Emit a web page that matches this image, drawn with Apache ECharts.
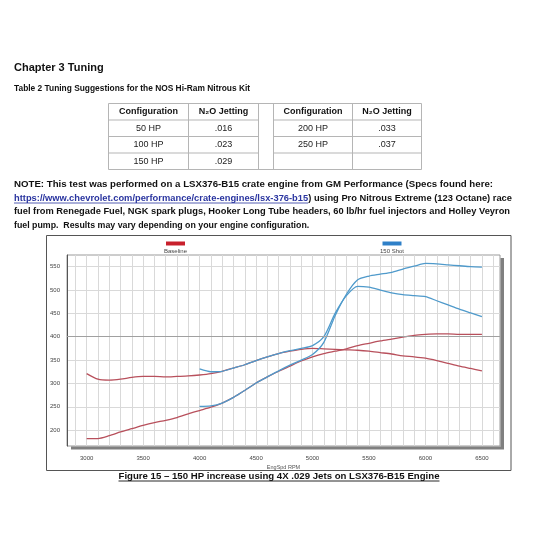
<!DOCTYPE html>
<html><head><meta charset="utf-8">
<script src="https://cdn.jsdelivr.net/npm/echarts@6/dist/echarts.min.js"></script>
<style>html,body{margin:0;padding:0;background:#fff}#c{width:550px;height:550px}</style>
</head><body><div id="c"></div>
<script>
// ---- data ----
const rpm = [3000,3100,3200,3300,3400,3500,3600,3700,3800,3900,4000,4100,4200,4300,4400,4500,4600,4700,4800,4900,5000,5100,5200,5300,5400,5500,5600,5700,5800,5900,6000,6100,6200,6300,6400,6500];
const baselineHP = [182,182,188,196,203,210,216,221,227,235,242,249,258,270,285,301,314,326,337,348,357,364,369,374,381,386,391,395,399,403,405,406,406,405,405,405];
const baselineTQ = [321,309,307,309,313,315,315,314,315,316,318,321,326,333,340,349,357,364,369,373,375,374,373,372,371,369,366,363,359,357,354,349,343,337,332,327];
const shotHP = [null,null,null,null,null,null,null,null,null,null,251,252,258,270,285,301,314,327,339,350,362,388,445,491,522,530,534,538,545,551,557,556,554,552,550,549];
const shotTQ = [null,null,null,null,null,null,null,null,null,null,331,325,326,333,340,349,357,364,370,375,381,400,450,488,508,506,500,494,490,488,486,477,468,459,451,443];
const xTickLabels = [3000,3500,4000,4500,5000,5500,6000,6500];
const yTickLabels = [200,250,300,350,400,450,500,550];
const legendNames = ['Baseline','150 Shot'];
const tableHeaders = ['Configuration','N\u2082O Jetting'];
const configs = ['50 HP','100 HP','150 HP','200 HP','250 HP'];
const jettings = ['.016','.023','.029','.033','.037'];
const noteLines = [
  'NOTE: This test was performed on a LSX376-B15 crate engine from GM Performance (Specs found here:',
  'https://www.chevrolet.com/performance/crate-engines/lsx-376-b15',
  ') using Pro Nitrous Extreme (123 Octane) race',
  'fuel from Renegade Fuel, NGK spark plugs, Hooker Long Tube headers, 60 lb/hr fuel injectors and Holley Veyron',
  'fuel pump.  Results may vary depending on your engine configuration.'
];
const caption = 'Figure 15 \u2013 150 HP increase using 4X .029 Jets on LSX376-B15 Engine';

// ---- helpers ----
const FONT = '"Liberation Sans", Arial, sans-serif';
const mctx = document.createElement('canvas').getContext('2d');
function tw(t, f){ mctx.font = f; return mctx.measureText(t).width; }
function pair(vals){ return rpm.map((r,i)=>[r, vals[i]]); }
const gridTicks = [];
for (let v = 2900; v <= 6600; v += 100) gridTicks.push(v);

const g = [];
function txt(x,y,t,size,opt){
  opt = opt || {};
  const el = {type:'text', z:10, x:x, y:y, scaleX: opt.sx || 1, style:{x:0, y:0, text:t,
    font:(opt.bold?'bold ':'') + size + 'px ' + FONT,
    fill: opt.fill || '#111', textAlign: opt.align || 'left', textVerticalAlign:'middle'}};
  g.push(el);
}
function ln(x1,y1,x2,y2,c,w){
  g.push({type:'line', z:10, shape:{x1:x1,y1:y1,x2:x2,y2:y2}, style:{stroke:c||'#aaa', lineWidth:w||1}});
}

// headings
txt(14, 68, 'Chapter 3 Tuning', 11, {bold:true});
txt(14, 89, 'Table 2 Tuning Suggestions for the NOS Hi-Ram Nitrous Kit', 8.4, {bold:true});

// table
const cx = [108.5,188.5,258.5,273.5,352.5,421.5];
const ry = [103.5,120,136.5,153,169.5];
const tc = '#b5b5b5';
ln(cx[0],ry[0],cx[5],ry[0],tc); ln(cx[0],ry[4],cx[5],ry[4],tc);
cx.forEach(x=>ln(x,ry[0],x,ry[4],tc));
for (let i=1;i<4;i++){ ln(cx[0],ry[i],cx[2],ry[i],tc); ln(cx[3],ry[i],cx[5],ry[i],tc); }
const colC = [(cx[0]+cx[1])/2,(cx[1]+cx[2])/2,(cx[3]+cx[4])/2,(cx[4]+cx[5])/2];
const rowC = [(ry[0]+ry[1])/2,(ry[1]+ry[2])/2,(ry[2]+ry[3])/2,(ry[3]+ry[4])/2];
txt(colC[0],rowC[0],tableHeaders[0],9,{bold:true,align:'center'});
txt(colC[1],rowC[0],tableHeaders[1],9,{bold:true,align:'center'});
txt(colC[2],rowC[0],tableHeaders[0],9,{bold:true,align:'center'});
txt(colC[3],rowC[0],tableHeaders[1],9,{bold:true,align:'center'});
for (let i=0;i<3;i++){ txt(colC[0],rowC[i+1],configs[i],9,{align:'center',fill:'#222'}); txt(colC[1],rowC[i+1],jettings[i],9,{align:'center',fill:'#222'}); }
for (let i=3;i<5;i++){ txt(colC[2],rowC[i-2],configs[i],9,{align:'center',fill:'#222'}); txt(colC[3],rowC[i-2],jettings[i],9,{align:'center',fill:'#222'}); }

// note (lines 1-3 justified to the right margin)
const nf = 8.8, nfont = 'bold ' + nf + 'px ' + FONT;
const ly = [185, 198.5, 212, 225.5];
const L = 14;
const w0 = tw(noteLines[0], nfont);
txt(L, ly[0], noteLines[0], nf, {bold:true, sx:(493-L)/w0});
const wl = tw(noteLines[1], nfont), wr = tw(noteLines[2], nfont);
const s1 = (512-L)/(wl+wr);
txt(L, ly[1], noteLines[1], nf, {bold:true, fill:'#2a35a0', sx:s1});
ln(L, ly[1]+4.5, L+wl*s1, ly[1]+4.5, '#2a35a0', 0.8);
txt(L+wl*s1, ly[1], noteLines[2], nf, {bold:true, sx:s1});
const w3 = tw(noteLines[3], nfont);
txt(L, ly[2], noteLines[3], nf, {bold:true, sx:(510-L)/w3});
txt(L, ly[3], noteLines[4], nf, {bold:true});

// chart frame
g.push({type:'rect', z:1, shape:{x:46.5,y:235.5,width:464.5,height:235}, style:{fill:'none', stroke:'#555', lineWidth:1}});
// plot drop shadow (right and bottom strips)
g.push({type:'rect', z:1, shape:{x:500.5,y:258,width:3.5,height:191}, style:{fill:'#808080'}});
g.push({type:'rect', z:1, shape:{x:71,y:446.5,width:433,height:3}, style:{fill:'#808080'}});
// legend
g.push({type:'rect', z:10, shape:{x:166,y:241.5,width:19,height:4}, style:{fill:'#c8202c'}});
g.push({type:'rect', z:10, shape:{x:382.5,y:241.5,width:19,height:4}, style:{fill:'#2f80c8'}});
txt(175.5, 251.5, legendNames[0], 6, {align:'center', fill:'#444'});
txt(392, 251.5, legendNames[1], 6, {align:'center', fill:'#444'});

// caption
const cs = 9.65, cf = 'bold ' + cs + 'px ' + FONT;
txt(279, 476, caption, cs, {bold:true, align:'center'});
const cw = tw(caption, cf);
ln(279-cw/2, 481, 279+cw/2, 481, '#111', 0.9);

const red = '#b8505c', blue = '#4f9acb';
function ser(name, vals, color, extra){
  return Object.assign({name:name, type:'line', data:pair(vals), showSymbol:false, symbol:'none',
    smooth:0.25, connectNulls:false, lineStyle:{color:color, width:1.3}, itemStyle:{color:color}, z:3}, extra||{});
}

const chart = echarts.init(document.getElementById('c'), null, {renderer:'canvas'});
chart.setOption({
  backgroundColor:'#fff',
  animation:false,
  grid:{left:67, top:255, width:433, height:191, show:true, backgroundColor:'#fff',
    borderColor:'#9a9a9a', borderWidth:1},
  xAxis:{type:'value', min:2826, max:6660,
    name:'EngSpd RPM', nameLocation:'middle', nameGap:18,
    nameTextStyle:{fontSize:5.5, color:'#555', fontFamily:FONT},
    axisLine:{show:false}, axisTick:{show:false, customValues:gridTicks},
    axisLabel:{customValues:xTickLabels, fontSize:6, color:'#444', margin:9, fontFamily:FONT,
      formatter:function(v){ return String(v); }},
    splitLine:{show:true, lineStyle:{color:'#d9d9d9', width:1}}},
  yAxis:{type:'value', min:166, max:575,
    axisLine:{show:true, lineStyle:{color:'#555', width:1}}, axisTick:{show:false, customValues:yTickLabels},
    axisLabel:{customValues:yTickLabels, fontSize:6, color:'#444', margin:7, fontFamily:FONT,
      formatter:function(v){ return String(v); }},
    splitLine:{show:true, lineStyle:{color:'#d9d9d9', width:1}}},
  graphic:g,
  series:[
    ser('Baseline', baselineTQ, red, {markLine:{silent:true, symbol:'none', label:{show:false},
      lineStyle:{color:'#a0a0a0', width:1, type:'solid'}, data:[{yAxis:400}]}}),
    ser('Baseline', baselineHP, red),
    ser('150 Shot', shotTQ, blue),
    ser('150 Shot', shotHP, blue)
  ]
});
</script></body></html>
